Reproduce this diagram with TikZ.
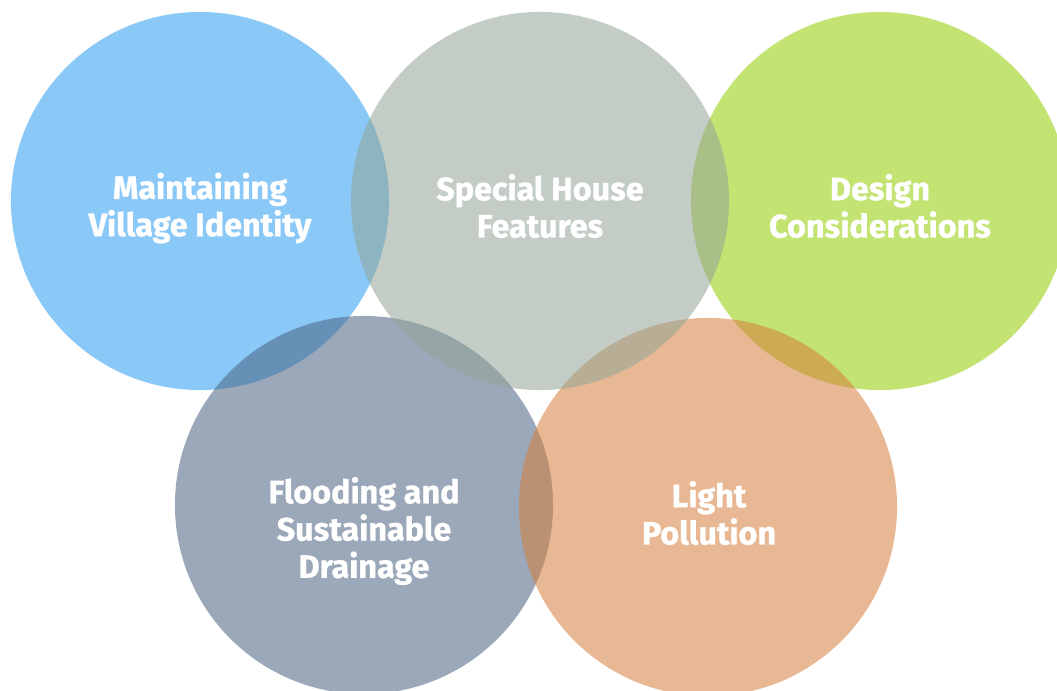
\documentclass[tikz,border=0pt]{standalone}
\usepackage{fontspec}
\setmainfont{Fira Sans}[BoldFeatures={FakeBold=0.9}]
\usepackage{xcolor}
\usepackage{tikz}
\usetikzlibrary{positioning}

\definecolor{skyblue}{RGB}{42,155,242}
\definecolor{sagegrey}{RGB}{146,164,151}
\definecolor{limegreen}{RGB}{146,204,0}
\definecolor{slateblue}{RGB}{73,97,128}
\definecolor{peach}{RGB}{213,126,60}

\begin{document}
\begin{tikzpicture}[
    x=0.025cm, y=-0.025cm,
    bubble/.style={circle, draw=none, inner sep=0pt, minimum size=9.45cm, fill opacity=0.55},
    bubbletext/.style={text=white, font=\bfseries\fontsize{23}{26.5}\selectfont, align=center, inner sep=0pt}
]
\useasboundingbox (0,0) rectangle (1057,690);
\clip (0,0) rectangle (1057,690);

% Circles
\node[bubble, fill=skyblue] (village) at (200,201) {};
\node[bubble, fill=limegreen] (design) at (880,201) {};
\node[bubble, fill=slateblue] (flood) at (364,505) {};
\node[bubble, fill=peach] (light) at (708,507) {};
\node[bubble, fill=sagegrey] (house) at (540,201) {};

% Labels
\node[bubbletext] (villagetxt) at (200,208) {Maintaining\\Village Identity};
\node[bubbletext] (housetxt) at (540,206) {Special House\\Features};
\node[bubbletext] (designtxt) at (880,206) {Design\\Considerations};
\node[bubbletext] (floodtxt) at (364,531) {Flooding and\\Sustainable\\Drainage};
\node[bubbletext] (lighttxt) at (709,513) {Light\\Pollution};

\end{tikzpicture}
\end{document}
